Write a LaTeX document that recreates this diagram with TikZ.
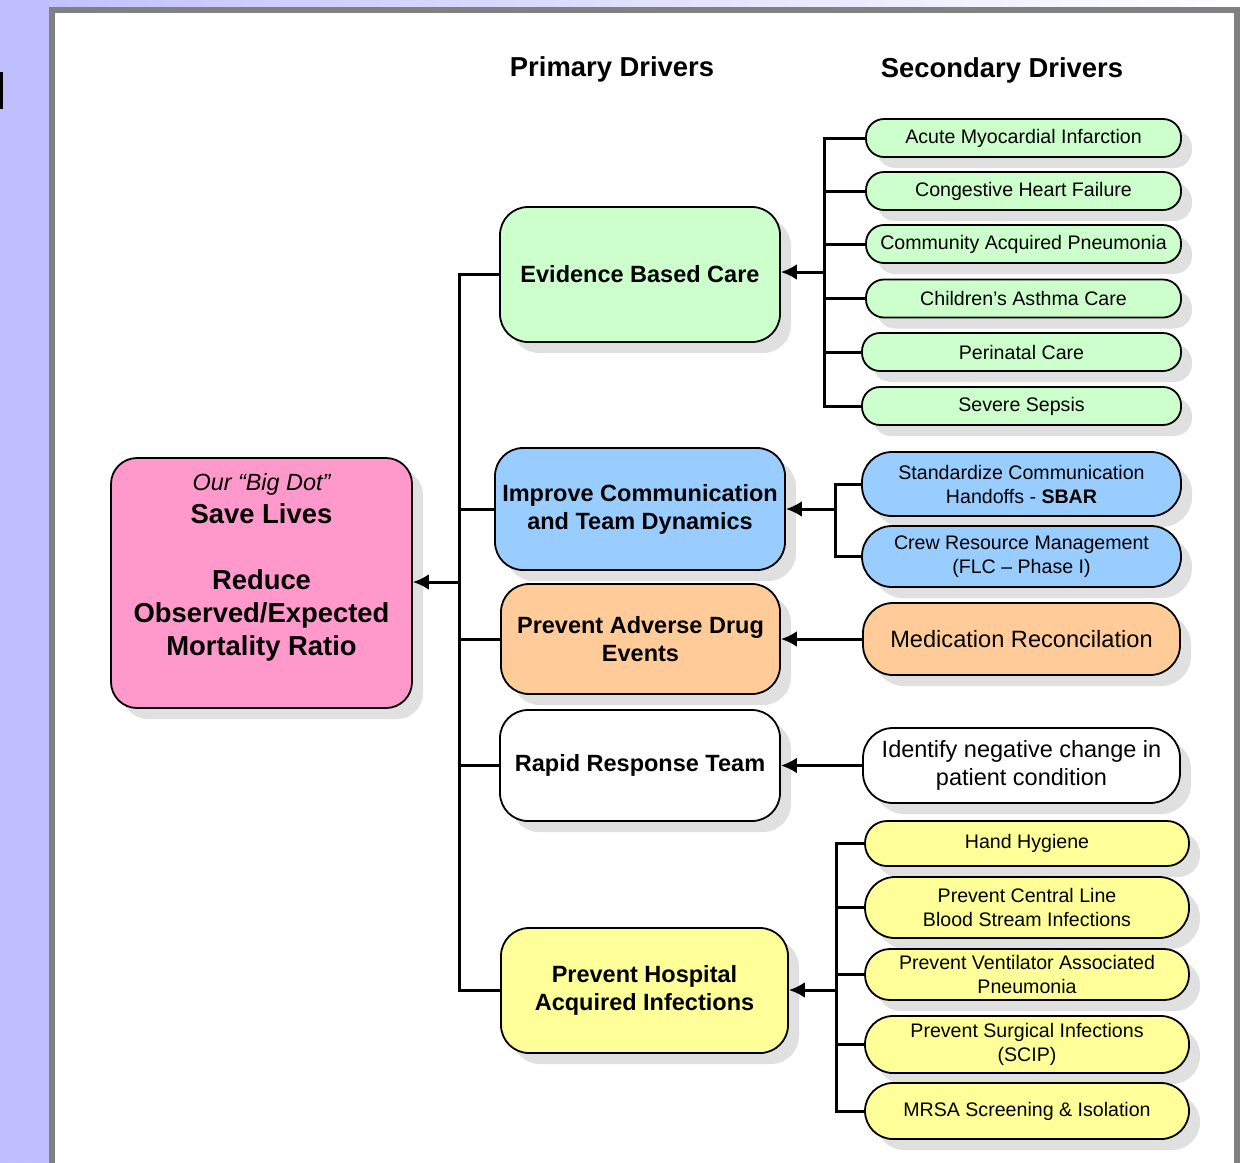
\documentclass[tikz,border=0pt]{standalone}
\usepackage{fontspec}
\setmainfont{Liberation Sans}
\usetikzlibrary{shadows,arrows.meta}
\definecolor{lav}{HTML}{BFBFFF}
\definecolor{framegray}{HTML}{808080}
\definecolor{cgreen}{HTML}{CCFFCC}
\definecolor{cblue}{HTML}{99CCFF}
\definecolor{corange}{HTML}{FFCC99}
\definecolor{cyellow}{HTML}{FFFF99}
\definecolor{cpink}{HTML}{FF99CC}
\tikzset{
  base/.style={draw=black, line width=0.9pt, inner sep=0pt, align=center,
    drop shadow={opacity=1, fill=black!12, shadow xshift=5.5pt, shadow yshift=-5.5pt}},
  goalbox/.style={base, fill=cpink, rounded corners=13pt},
  prim/.style={base, rounded corners=14pt, font=\fontsize{11.75}{14}\selectfont\bfseries},
  sec/.style={base, font=\fontsize{9.8}{12}\selectfont},
  gsec/.style={sec, fill=cgreen, minimum height=19pt, rounded corners=9pt},
  bsec/.style={sec, fill=cblue, minimum width=159.5pt, rounded corners=15pt},
  ysec/.style={sec, fill=cyellow, minimum width=162pt},
  hdr/.style={font=\fontsize{13.7}{16}\selectfont\bfseries, inner sep=0pt},
  conn/.style={line width=1.5pt, black, line join=miter},
  arr/.style={conn, -{Latex[length=8pt,width=8pt]}}
}
\begin{document}
\begin{tikzpicture}[x=0.5pt, y=-0.5pt]
\useasboundingbox (0,0) rectangle (1245,1162);
\clip (0,0) rectangle (1245,1162);
% background
\shade[left color=lav, right color=white] (0,0) rectangle (1245,1162);
\fill[lav] (0,0) rectangle (50,1162);
\fill[white] (52,10) rectangle (1237,1180);
\draw[framegray, line width=3pt] (52,10) rectangle (1237,1180);
\fill[black] (0,72) rectangle (3,109);

% headers
\node[hdr] (h1) at (612,69) {Primary Drivers};
\node[hdr] (h2) at (1002,70) {Secondary Drivers};

% goal
\node[goalbox, minimum width=150.5pt, minimum height=125pt] (goal) at (261.5,583) {};
\node[align=center, inner sep=0pt, font=\fontsize{13.7}{16.5}\selectfont\bfseries] (goaltext) at (261.5,567)
  {{\mdseries\itshape\fontsize{11.7}{14}\selectfont Our “Big Dot”}\\ Save Lives\\[16.5pt] Reduce\\ Observed/Expected\\ Mortality Ratio};

% primary drivers
\node[prim, fill=cgreen, minimum width=140pt, minimum height=67.5pt] (ebc) at (640,274.5) {Evidence Based Care};
\node[prim, fill=cblue, minimum width=145pt, minimum height=61pt] (ic) at (640,509) {Improve Communication\\and Team Dynamics};
\node[prim, fill=corange, minimum width=139.5pt, minimum height=55pt] (pad) at (640.5,639) {Prevent Adverse Drug\\Events};
\node[prim, fill=white, minimum width=140pt, minimum height=55.5pt] (rrt) at (640,765.5) {Rapid Response Team};
\node[prim, fill=cyellow, minimum width=143.5pt, minimum height=62.5pt] (phai) at (644.5,990.5) {Prevent Hospital\\Acquired Infections};

% secondary: green
\node[gsec, minimum width=157.5pt] (ami) at (1023.5,138) {Acute Myocardial Infarction};
\node[gsec, minimum width=157.5pt] (chf) at (1023.5,191) {Congestive Heart Failure};
\node[gsec, minimum width=157.5pt] (cap) at (1023.5,244) {Community Acquired Pneumonia};
\node[gsec, minimum width=157.5pt] (cac) at (1023.5,298.5) {Children’s Asthma Care};
\node[gsec, minimum width=159.5pt] (per) at (1021.5,352) {Perinatal Care};
\node[gsec, minimum width=159.5pt] (sep) at (1021.5,406) {Severe Sepsis};

% secondary: blue
\node[bsec, minimum height=32pt] (sbar) at (1021.5,484) {Standardize Communication\\Handoffs - \textbf{SBAR}};
\node[bsec, minimum height=30.5pt] (crm) at (1021.5,556.5) {Crew Resource Management\\(FLC – Phase I)};

% secondary: orange / white
\node[base, fill=corange, rounded corners=15pt, minimum width=158.5pt, minimum height=36pt,
  font=\fontsize{11.8}{14}\selectfont] (mr) at (1021.5,639) {Medication Reconcilation};
\node[base, fill=white, rounded corners=15pt, minimum width=158.5pt, minimum height=37.5pt,
  font=\fontsize{11.75}{14}\selectfont] (idn) at (1021.5,765.5) {Identify negative change in\\patient condition};

% secondary: yellow
\node[ysec, minimum height=22.5pt, rounded corners=11pt] (hh) at (1027,843.5) {Hand Hygiene};
\node[ysec, minimum height=30.5pt, rounded corners=15pt] (cl) at (1027,907.5) {Prevent Central Line\\Blood Stream Infections};
\node[ysec, minimum height=25.5pt, rounded corners=12.5pt] (vap) at (1027,974.5) {Prevent Ventilator Associated\\Pneumonia};
\node[ysec, minimum height=28.5pt, rounded corners=14pt] (ssi) at (1027,1044.5) {Prevent Surgical Infections\\(SCIP)};
\node[ysec, minimum height=28pt, rounded corners=14pt] (mrsa) at (1027,1111) {MRSA Screening \& Isolation};

% trunk to goal
\coordinate (tk) at (459,582);
\draw[conn] (ebc.west) -- (ebc.west -| tk) -- (phai.west -| tk) -- (phai.west);
\draw[conn] (ic.west) -- (ic.west -| tk);
\draw[conn] (pad.west) -- (pad.west -| tk);
\draw[conn] (rrt.west) -- (rrt.west -| tk);
\draw[arr] (tk) -- (tk -| goal.east);

% green bracket
\coordinate (gb) at (824,272);
\draw[conn] (ami.west) -- (ami.west -| gb) -- (sep.west -| gb) -- (sep.west);
\draw[conn] (chf.west) -- (chf.west -| gb);
\draw[conn] (cap.west) -- (cap.west -| gb);
\draw[conn] (cac.west) -- (cac.west -| gb);
\draw[conn] (per.west) -- (per.west -| gb);
\draw[arr] (gb) -- (gb -| ebc.east);

% blue bracket
\coordinate (bb) at (835,509);
\draw[conn] (sbar.west) -- (sbar.west -| bb) -- (crm.west -| bb) -- (crm.west);
\draw[arr] (bb) -- (bb -| ic.east);

% single links
\draw[arr] (mr.west) -- (mr.west -| pad.east);
\draw[arr] (idn.west) -- (idn.west -| rrt.east);

% yellow bracket
\coordinate (yb) at (836,990);
\draw[conn] (hh.west) -- (hh.west -| yb) -- (mrsa.west -| yb) -- (mrsa.west);
\draw[conn] (cl.west) -- (cl.west -| yb);
\draw[conn] (vap.west) -- (vap.west -| yb);
\draw[conn] (ssi.west) -- (ssi.west -| yb);
\draw[arr] (yb) -- (yb -| phai.east);
\end{tikzpicture}
\end{document}
